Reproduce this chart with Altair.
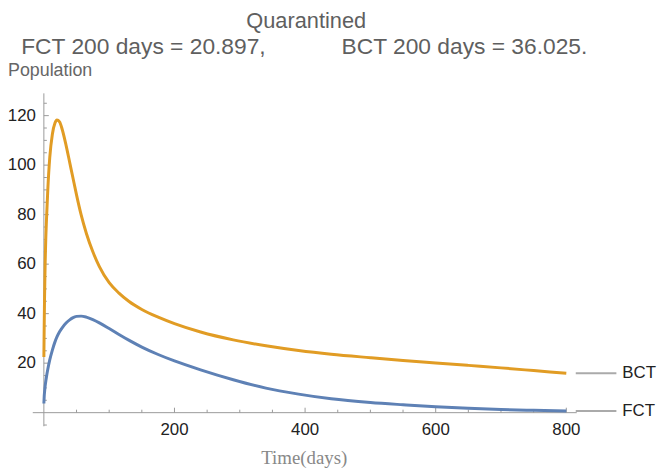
import altair as alt
import pandas as pd

# ---- data ----
t = [0, 0.5, 1, 2, 3, 4, 6, 9, 13, 17, 20, 24, 28, 34, 40, 44, 50, 57, 65, 75, 85,
     100, 115, 130, 150, 175, 200, 240, 290, 340, 390, 440, 500, 550, 600, 650, 700, 750, 800]
bct = [22.5, 35, 46, 61, 71, 78, 90, 103, 112.5, 117, 118.2, 117.5, 114.5, 108, 100.5, 95.5, 88, 80, 72.5, 65, 59,
       52.5, 48.3, 45.0, 41.7, 38.6, 36.0, 32.6, 29.4, 27.0, 25.1, 23.6, 22.2, 21.1, 20.1, 19.1, 18.1, 17.0, 15.9]
fct = [3.7, 6.5, 8.2, 10.8, 12.8, 14.5, 17.5, 21.3, 25.3, 28.6, 30.6, 32.7, 34.3, 36.2, 37.6, 38.3, 38.9, 39.0, 38.6, 37.6, 36.3,
       34.0, 31.6, 29.3, 26.5, 23.5, 20.9, 17.3, 13.3, 9.9, 7.5, 5.6, 4.1, 3.2, 2.4, 1.8, 1.3, 0.95, 0.7]

series_names = ["FCT", "BCT"]
series_colors = ["#5E81B5", "#E19C24"]

x_major = [200, 400, 600, 800]
x_minor = [50, 100, 150, 250, 300, 350, 450, 500, 550, 650, 700, 750]
y_major = [20, 40, 60, 80, 100, 120]
y_minor = [-5, 5, 10, 15, 25, 30, 35, 45, 50, 55, 65, 70, 75, 85, 90, 95, 105, 110, 115, 125]

title_text = "Quarantined"
subtitle_text = "FCT 200 days = 20.897," + "\u00a0" * 12 + "BCT 200 days = 36.025."
ylabel_text = "Population"
xlabel_text = "Time(days)"

# ---- layout ----
W, H = 549, 336
XDOM = [-17, 816]
YDOM = [-5.5, 129]
FONT = "Liberation Sans"
AXC = "#9a9a9a"

xs = alt.Scale(domain=XDOM, nice=False, zero=False)
ys = alt.Scale(domain=YDOM, nice=False, zero=False)

def X(f):
    return alt.X(f, scale=xs, axis=None)

def Y(f):
    return alt.Y(f, scale=ys, axis=None)

one = pd.DataFrame({"z": [0]})

long = pd.DataFrame({
    "t": t + t,
    "v": fct + bct,
    "s": ["FCT"] * len(t) + ["BCT"] * len(t),
})

# axis lines
xaxis_line = alt.Chart(one).mark_rule(color=AXC, strokeWidth=1).encode(
    x=alt.value(0), x2=alt.value(W), y=Y("z:Q"))
yaxis_line = alt.Chart(one).mark_rule(color=AXC, strokeWidth=1).encode(
    y=alt.value(0), y2=alt.value(H), x=X("z:Q"))

def tick_df(vals):
    return pd.DataFrame({"v": vals, "z": [0] * len(vals)})

# ticks
xmaj = alt.Chart(tick_df(x_major)).mark_rule(color=AXC, y2Offset=-5).encode(
    x=X("v:Q"), y=Y("z:Q"), y2="z:Q")
xmin = alt.Chart(tick_df(x_minor)).mark_rule(color=AXC, y2Offset=-3).encode(
    x=X("v:Q"), y=Y("z:Q"), y2="z:Q")
ymaj = alt.Chart(tick_df(y_major)).mark_rule(color=AXC, x2Offset=5).encode(
    y=Y("v:Q"), x=X("z:Q"), x2="z:Q")
ymin = alt.Chart(tick_df(y_minor)).mark_rule(color=AXC, x2Offset=3).encode(
    y=Y("v:Q"), x=X("z:Q"), x2="z:Q")

# tick labels
xlab = alt.Chart(tick_df(x_major)).mark_text(
    dy=18, baseline="middle", align="center", font=FONT, fontSize=17, color="#222").encode(
    x=X("v:Q"), y=Y("z:Q"), text=alt.Text("v:Q"))
ylab = alt.Chart(tick_df(y_major)).mark_text(
    dx=-8, baseline="middle", align="right", font=FONT, fontSize=17, color="#222").encode(
    y=Y("v:Q"), x=X("z:Q"), text=alt.Text("v:Q"))

# curves
lines = alt.Chart(long).mark_line(strokeWidth=3, interpolate="monotone").encode(
    x=X("t:Q"),
    y=Y("v:Q"),
    color=alt.Color("s:N", scale=alt.Scale(domain=series_names, range=series_colors), legend=None),
)

# end labels
ends = pd.DataFrame({"s": ["BCT", "FCT"], "v": [bct[-1], fct[-1]]})
end_rules = alt.Chart(ends).mark_rule(color="#aaaaaa", strokeWidth=2).encode(
    x=alt.value(W - 1), x2=alt.value(W + 40), y=Y("v:Q"))
end_text = alt.Chart(ends).mark_text(align="left", baseline="middle", font=FONT, fontSize=17, color="#222").encode(
    x=alt.value(W + 46), y=Y("v:Q"), text="s:N")

# titles
def label(txt, x, y, size, color, align="center", font=FONT, baseline="middle"):
    return alt.Chart(pd.DataFrame({"txt": [txt]})).mark_text(
        align=align, baseline=baseline, font=font, fontSize=size, color=color).encode(
        x=alt.value(x), y=alt.value(y), text="txt:N")

title = label(title_text, 276, -73, 22, "#5f5f5f")
subtitle = label(subtitle_text, 274, -47, 23, "#5f5f5f")
ylabel = label(ylabel_text, -25, -23, 18, "#666666", align="left")
xlabel = label(xlabel_text, 274, 374, 19, "#888888", font="Liberation Serif", baseline="alphabetic")

chart = alt.layer(
    xaxis_line, yaxis_line, xmaj, xmin, ymaj, ymin, xlab, ylab,
    lines, end_rules, end_text, title, subtitle, ylabel, xlabel,
).properties(
    width=W, height=H,
    autosize=alt.AutoSizeParams(type="none"),
    padding={"left": 25, "top": 84, "right": 82, "bottom": 44},
    background="white",
).configure_view(stroke=None)

chart.save("out.html", embed_options={"renderer": "svg", "actions": False})
